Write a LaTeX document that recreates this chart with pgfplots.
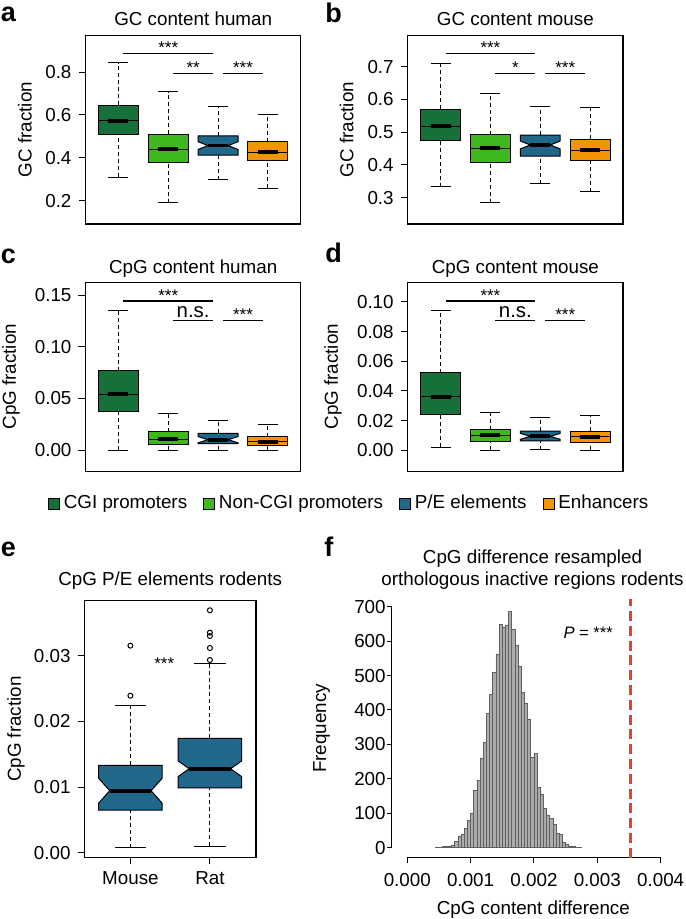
\documentclass[border=0pt]{standalone}
\usepackage{fontspec}
\setmainfont{Liberation Sans}
\usepackage{pgfplots}
\pgfplotsset{compat=1.18}
\definecolor{cgi}{RGB}{21,112,58}
\definecolor{ncgi}{RGB}{62,184,28}
\definecolor{pe}{RGB}{33,103,137}
\definecolor{enh}{RGB}{243,149,0}
\definecolor{hfill}{RGB}{172,172,172}
\definecolor{hedge}{RGB}{95,95,95}
\definecolor{redl}{RGB}{232,62,42}
\newcommand\fs{\fontsize{9.4}{11}\selectfont}
\newcommand\fst{\fontsize{8.5}{10}\selectfont}
\newcommand\fns{\fontsize{10.2}{12}\selectfont}
\newcommand\flet{\bfseries\fontsize{13.5}{15}\selectfont}
\pgfplotsset{
  rbox/.style={scale only axis, width=107.65pt, height=94.4pt, xmin=0.34, xmax=4.66,
    xtick=\empty, ytick pos=left, tick align=outside, major tick length=3.5pt,
    axis line style={line width=0.6pt}, tick style={black, line width=0.5pt},
    clip=false, tick label style={font=\fs}, label style={font=\fs},
    every axis title/.style={at={(0.5,1)},anchor=base,yshift=4.6pt,font=\fs},
    scaled y ticks=false, /pgf/number format/assume math mode=true},
  whisk/.style={black, line width=0.5pt, dash pattern=on 2pt off 1.5pt},
  capl/.style={black, line width=0.5pt},
  boxl/.style={draw=black, line width=0.5pt},
  medthin/.style={black, line width=0.5pt},
  medthick/.style={black, line width=1.9pt},
  sig/.style={black, line width=0.6pt},
}
% plain box: pos lo q1 med q3 hi color
\newcommand\boxP[7]{%
  \pgfmathsetmacro\bxL{#1-0.4}\pgfmathsetmacro\bxR{#1+0.4}%
  \pgfmathsetmacro\bxA{#1-0.2}\pgfmathsetmacro\bxB{#1+0.2}%
  \addplot[whisk] coordinates {(#1,#5) (#1,#6)};
  \addplot[whisk] coordinates {(#1,#2) (#1,#3)};
  \addplot[capl] coordinates {(\bxA,#6) (\bxB,#6)};
  \addplot[capl] coordinates {(\bxA,#2) (\bxB,#2)};
  \addplot[boxl, fill=#7] coordinates {(\bxL,#3) (\bxL,#5) (\bxR,#5) (\bxR,#3)} --cycle;
  \addplot[medthin] coordinates {(\bxL,#4) (\bxR,#4)};
  \addplot[medthick] coordinates {(\bxA,#4) (\bxB,#4)};
}
% notched box: pos lo q1 med q3 hi notch inset color
\newcommand\boxN[9]{%
  \pgfmathsetmacro\bxL{#1-0.4}\pgfmathsetmacro\bxR{#1+0.4}%
  \pgfmathsetmacro\bxA{#1-0.2}\pgfmathsetmacro\bxB{#1+0.2}%
  \pgfmathsetmacro\bxI{#1-#8}\pgfmathsetmacro\bxJ{#1+#8}%
  \pgfmathsetmacro\bxU{#4+#7}\pgfmathsetmacro\bxD{#4-#7}%
  \addplot[whisk] coordinates {(#1,#5) (#1,#6)};
  \addplot[whisk] coordinates {(#1,#2) (#1,#3)};
  \addplot[capl] coordinates {(\bxA,#6) (\bxB,#6)};
  \addplot[capl] coordinates {(\bxA,#2) (\bxB,#2)};
  \addplot[boxl, fill=#9] coordinates {(\bxL,#3) (\bxL,\bxD) (\bxI,#4) (\bxL,\bxU) (\bxL,#5) (\bxR,#5) (\bxR,\bxU) (\bxJ,#4) (\bxR,\bxD) (\bxR,#3)} --cycle;
  \addplot[medthick] coordinates {(\bxI,#4) (\bxJ,#4)};
}
\begin{document}
\begin{tikzpicture}
\useasboundingbox (0,0) rectangle (342.5pt,-459.5pt);
% panel letters
\node[anchor=base west, inner sep=0, font=\flet] at (0.3pt,-10.85pt) {a};
\node[anchor=base west, inner sep=0, font=\flet] at (162.5pt,-11.35pt) {b};
\node[anchor=base west, inner sep=0, font=\flet] at (0.2pt,-131.65pt) {c};
\node[anchor=base west, inner sep=0, font=\flet] at (162.5pt,-131.35pt) {d};
\node[anchor=base west, inner sep=0, font=\flet] at (0.2pt,-278.35pt) {e};
\node[anchor=base west, inner sep=0, font=\flet] at (162pt,-278.35pt) {f};

% ---------- a ----------
\begin{axis}[rbox, at={(42.75pt,-17.6pt)}, anchor=north west,
  ymin=0.0914, ymax=0.9716, ytick={0.2,0.4,0.6,0.8}, yticklabels={0.2,0.4,0.6,0.8},
  ylabel={GC fraction}, ylabel style={at={(axis description cs:-0.281,0.5)}, anchor=center},
  title={GC content human}]
\boxP{1}{0.310}{0.510}{0.572}{0.645}{0.842}{cgi}
\boxP{2}{0.190}{0.377}{0.441}{0.510}{0.708}{ncgi}
\boxN{3}{0.298}{0.412}{0.457}{0.502}{0.638}{0.018}{0.2}{pe}
\boxP{4}{0.258}{0.387}{0.427}{0.474}{0.604}{enh}
\addplot[sig] coordinates {(1.1,0.887) (2.9,0.887)};
\addplot[sig] coordinates {(2.1,0.794) (2.9,0.794)};
\addplot[sig] coordinates {(3.1,0.794) (3.9,0.794)};
\node[anchor=base, inner sep=0, font=\fst] at (axis cs:2,0.887) {***};
\node[anchor=base, inner sep=0, font=\fst] at (axis cs:2.5,0.794) {**};
\node[anchor=base, inner sep=0, font=\fst] at (axis cs:3.5,0.794) {***};
\end{axis}

% ---------- b ----------
\begin{axis}[rbox, at={(203.85pt,-17.6pt)}, anchor=north west,
  ymin=0.2197, ymax=0.7962, ytick={0.3,0.4,0.5,0.6,0.7}, yticklabels={0.3,0.4,0.5,0.6,0.7},
  ylabel={GC fraction}, ylabel style={at={(axis description cs:-0.283,0.5)}, anchor=center},
  title={GC content mouse}]
\boxP{1}{0.334}{0.474}{0.518}{0.570}{0.711}{cgi}
\boxP{2}{0.284}{0.408}{0.451}{0.492}{0.617}{ncgi}
\boxN{3}{0.343}{0.427}{0.461}{0.491}{0.579}{0.012}{0.2}{pe}
\boxP{4}{0.318}{0.414}{0.445}{0.479}{0.574}{enh}
\addplot[sig] coordinates {(1.1,0.741) (2.9,0.741)};
\addplot[sig] coordinates {(2.1,0.680) (2.9,0.680)};
\addplot[sig] coordinates {(3.1,0.680) (3.9,0.680)};
\node[anchor=base, inner sep=0, font=\fst] at (axis cs:2,0.741) {***};
\node[anchor=base, inner sep=0, font=\fst] at (axis cs:2.5,0.680) {*};
\node[anchor=base, inner sep=0, font=\fst] at (axis cs:3.5,0.680) {***};
\end{axis}

% ---------- c ----------
\begin{axis}[rbox, at={(42.75pt,-141.15pt)}, anchor=north west,
  ymin=-0.0204, ymax=0.1623, ytick={0,0.05,0.1,0.15}, yticklabels={0.00,0.05,0.10,0.15},
  ylabel={CpG fraction}, ylabel style={at={(axis description cs:-0.346,0.5)}, anchor=center},
  title={CpG content human}]
\boxP{1}{0.0}{0.0377}{0.0539}{0.0765}{0.1348}{cgi}
\boxP{2}{0.0}{0.0055}{0.0106}{0.0177}{0.0358}{ncgi}
\boxN{3}{0.0}{0.0061}{0.0100}{0.0161}{0.0287}{0.003}{0.2}{pe}
\boxP{4}{0.0}{0.0048}{0.0081}{0.0129}{0.0248}{enh}
\addplot[sig] coordinates {(1.1,0.1442) (2.9,0.1442)};
\addplot[sig] coordinates {(2.1,0.1251) (2.9,0.1251)};
\addplot[sig] coordinates {(3.1,0.1251) (3.9,0.1251)};
\node[anchor=base, inner sep=0, font=\fst] at (axis cs:2,0.1442) {***};
\node[anchor=base, inner sep=0, font=\fns, yshift=1.7pt] at (axis cs:2.5,0.1251) {n.s.};
\node[anchor=base, inner sep=0, font=\fst] at (axis cs:3.5,0.1251) {***};
\end{axis}

% ---------- d ----------
\begin{axis}[rbox, at={(203.85pt,-141.15pt)}, anchor=north west,
  ymin=-0.0140, ymax=0.1132, ytick={0,0.02,0.04,0.06,0.08,0.1}, yticklabels={0.00,0.02,0.04,0.06,0.08,0.10},
  ylabel={CpG fraction}, ylabel style={at={(axis description cs:-0.347,0.5)}, anchor=center},
  title={CpG content mouse}]
\boxP{1}{0.0020}{0.0243}{0.0361}{0.0521}{0.0941}{cgi}
\boxP{2}{0.0}{0.0061}{0.0101}{0.0139}{0.0258}{ncgi}
\boxN{3}{0.0005}{0.0063}{0.0094}{0.0130}{0.0222}{0.002}{0.2}{pe}
\boxP{4}{0.0}{0.0056}{0.0090}{0.0128}{0.0236}{enh}
\addplot[sig] coordinates {(1.1,0.1006) (2.9,0.1006)};
\addplot[sig] coordinates {(2.1,0.0874) (2.9,0.0874)};
\addplot[sig] coordinates {(3.1,0.0874) (3.9,0.0874)};
\node[anchor=base, inner sep=0, font=\fst] at (axis cs:2,0.1006) {***};
\node[anchor=base, inner sep=0, font=\fns, yshift=1.7pt] at (axis cs:2.5,0.0874) {n.s.};
\node[anchor=base, inner sep=0, font=\fst] at (axis cs:3.5,0.0874) {***};
\end{axis}

% ---------- legend ----------
\begin{axis}[at={(175.1pt,-251.8pt)}, anchor=center, scale only axis, width=10pt, height=10pt,
  hide axis, xmin=0, xmax=1, ymin=0, ymax=1, legend columns=4,
  legend style={draw=none, fill=none, at={(0.5,0.5)}, anchor=center, font=\fs, inner sep=0pt,
    /tikz/every even column/.append style={column sep=6pt}},
  legend image code/.code={\fill[#1] (0pt,-2.75pt) rectangle (5.5pt,2.75pt);}]
\addlegendimage{fill=cgi}
\addlegendimage{fill=ncgi}
\addlegendimage{fill=pe}
\addlegendimage{fill=enh}
\legend{CGI promoters, Non-CGI promoters, P/E elements, Enhancers}
\end{axis}

% ---------- e ----------
\begin{axis}[rbox, at={(42.15pt,-300.35pt)}, anchor=north west, width=85.85pt, height=128.5pt,
  xmin=0.42, xmax=2.58, xtick={1,2}, xticklabels={Mouse,Rat}, xtick pos=bottom, major tick length=3.35pt,
  ymin=-0.00076, ymax=0.03841, ytick={0,0.01,0.02,0.03}, yticklabels={0.00,0.01,0.02,0.03},
  ylabel={CpG fraction}, ylabel style={at={(axis description cs:-0.398,0.5)}, anchor=center},
  every axis title/.style={at={(0.5,1)},anchor=base,yshift=7.85pt,font=\fs},
  title={CpG P/E elements rodents}]
\boxN{1}{0.00076}{0.00651}{0.00945}{0.01332}{0.0224}{0.0019}{0.26}{pe}
\boxN{2}{0.00102}{0.0099}{0.0128}{0.01744}{0.02887}{0.0012}{0.26}{pe}
\addplot[only marks, mark=o, mark size=1.25pt, mark options={line width=0.5pt, black}] coordinates {(1,0.03156) (1,0.02393) (2,0.03695) (2,0.03354) (2,0.03303) (2,0.0312) (2,0.02937)};
\node[anchor=base, inner sep=0, font=\fst] at (axis cs:1.426,0.0280) {***};
\end{axis}

% ---------- f ----------
\begin{axis}[at={(195.85pt,-299.55pt)}, anchor=north west, scale only axis, width=140.8pt, height=129.3pt,
  xmin=-0.000246, xmax=0.0042, ymin=-29, ymax=722, clip=false,
  axis line style={draw=none}, tick align=outside, major tick length=2.5pt,
  tick style={black, line width=0.5pt}, xtick pos=bottom, ytick pos=left,
  scaled x ticks=false, scaled y ticks=false,
  xtick={0,0.001,0.002,0.003,0.004}, xticklabels={0.000,0.001,0.002,0.003,0.004},
  ytick={0,100,200,300,400,500,600,700}, yticklabels={0,100,200,300,400,500,600,700},
  tick label style={font=\fs}, label style={font=\fs},
  xticklabel style={yshift=-2pt}, yticklabel style={xshift=3pt},
  ylabel={Frequency}, ylabel style={at={(axis description cs:-0.2486,0.5)}, anchor=center},
  xlabel={CpG content difference}, xlabel style={at={(axis description cs:0.503,-0.2177)}, anchor=base},
  /pgf/number format/assume math mode=true]
\addplot[ybar interval, fill=hfill, draw=hedge, line width=0.4pt] coordinates {
(0.00045,1) (0.0005,2) (0.00055,3) (0.0006,4) (0.00065,5) (0.0007,8) (0.00075,18) (0.0008,33)
(0.00085,39) (0.0009,56) (0.00095,78) (0.001,100) (0.00105,166) (0.0011,196) (0.00115,259)
(0.0012,305) (0.00125,389) (0.0013,445) (0.00135,510) (0.0014,560) (0.00145,649) (0.0015,641)
(0.00155,645) (0.0016,687) (0.00165,634) (0.0017,588) (0.00175,528) (0.0018,452) (0.00185,420)
(0.0019,372) (0.00195,263) (0.002,273) (0.00205,175) (0.0021,155) (0.00215,115) (0.0022,95)
(0.00225,84) (0.0023,69) (0.00235,42) (0.0024,39) (0.00245,14) (0.0025,11) (0.00255,4)
(0.0026,4) (0.00265,2) (0.0027,1) (0.00275,0)};
\addplot[black, line width=0.5pt] coordinates {(-0.000246,0) (-0.000246,700)};
\addplot[black, line width=0.5pt] coordinates {(0,-29) (0.004,-29)};
\addplot[redl, line width=1.5pt, dash pattern=on 5pt off 2.4pt] coordinates {(0.00353,-29) (0.00353,722)};
\node[anchor=base west, inner sep=0, font=\fontsize{8.3}{10}\selectfont] at (axis cs:0.00246,608) {\textit{P} = ***};
\node[anchor=base, inner sep=0, font=\fs] at (axis description cs:0.5,1) [yshift=17.9pt] {CpG difference resampled};
\node[anchor=base, inner sep=0, font=\fs] at (axis description cs:0.5,1) [yshift=7.05pt] {orthologous inactive regions rodents};
\end{axis}
\end{tikzpicture}
\end{document}
